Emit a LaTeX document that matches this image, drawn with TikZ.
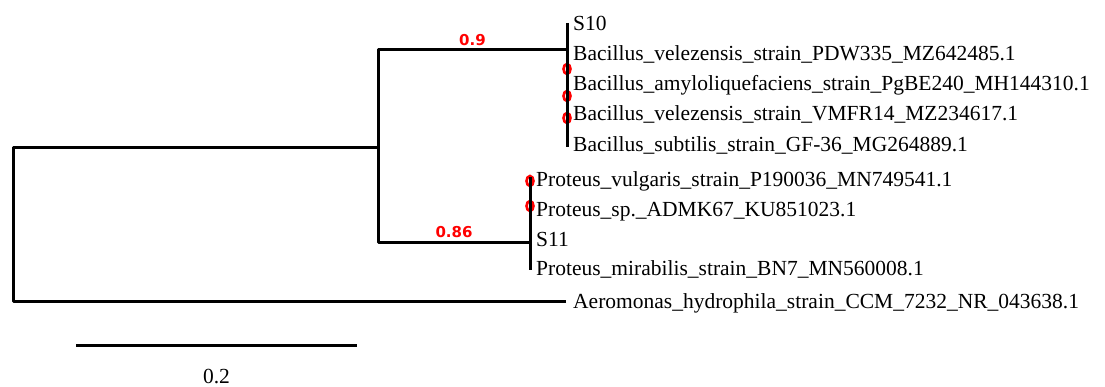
\documentclass[tikz,border=0pt]{standalone}
\usepackage{fontspec}
\setmainfont{Liberation Serif}
\newfontfamily\supfont{DejaVu Sans}
\usetikzlibrary{positioning,calc,shapes.geometric}
\tikzset{  leaf/.style={inner sep=0pt,text height=14pt,text depth=0pt,font=\fontsize{21.5}{22}\selectfont},
  branch/.style={line width=3pt,line join=round},
  support/.style={inner sep=0pt,text=red,font=\supfont\bfseries\fontsize{15}{15}\selectfont},
  nodedot/.style={draw=red,line width=2.6pt,ellipse,minimum width=7pt,minimum height=10pt,inner sep=0pt} }

\begin{document}
\begin{tikzpicture}[x=1pt,y=-1pt]
    \useasboundingbox (0,0) rectangle (1105,387);
    % inner vertices
    \coordinate (root) at (13,148);
    \coordinate (in) at (378,148);
    \coordinate (bac) at (567,50);
    \coordinate (pro) at (530,243);
    % tips
    \coordinate (s10) at (567,24);
    \coordinate (bvel) at (567,54);
    \coordinate (bamy) at (567,84);
    \coordinate (bvm) at (567,114);
    \coordinate (bsub) at (567,145);
    \coordinate (pvul) at (530,180);
    \coordinate (psp) at (530,210);
    \coordinate (s11) at (530,240);
    \coordinate (pmir) at (530,269);
    \coordinate (aer) at (566,301);
    \node[nodedot] (d1) at (567,69) {};
    \node[nodedot] (d2) at (567,96) {};
    \node[nodedot] (d3) at (567,118) {};
    \node[nodedot] (d4) at (530,181) {};
    \node[nodedot] (d5) at (530,206) {};
    \draw[branch] (aer) -| (root) -- (in);
    \draw[branch] (bac) -| (in) |- (pro);
    \draw[branch,shorten <=-1pt,shorten >=-2pt] (s10) -- (bsub);
    \draw[branch,shorten <=-3pt,shorten >=-1pt] (pvul) -- (pmir);
    \path (in |- bac) -- node[support,above=4pt] (bs1) {0.9} (bac);
    \path (in |- pro) -- node[support,above=5pt] (bs2) {0.86} (pro);
    \node[leaf,right=6pt of s10] (ls10) {S10};
    \node[leaf,right=6pt of bvel] (lbvel) {Bacillus\_velezensis\_strain\_PDW335\_MZ642485.1};
    \node[leaf,right=6pt of bamy] (lbamy) {Bacillus\_amyloliquefaciens\_strain\_PgBE240\_MH144310.1};
    \node[leaf,right=6pt of bvm] (lbvm) {Bacillus\_velezensis\_strain\_VMFR14\_MZ234617.1};
    \node[leaf,right=6pt of bsub] (lbsub) {Bacillus\_subtilis\_strain\_GF-36\_MG264889.1};
    \node[leaf,right=6pt of pvul] (lpvul) {Proteus\_vulgaris\_strain\_P190036\_MN749541.1};
    \node[leaf,right=6pt of psp] (lpsp) {Proteus\_sp.\_ADMK67\_KU851023.1};
    \node[leaf,right=6pt of s11] (ls11) {S11};
    \node[leaf,right=6pt of pmir] (lpmir) {Proteus\_mirabilis\_strain\_BN7\_MN560008.1};
    \node[leaf,right=7pt of aer] (laer) {Aeromonas\_hydrophila\_strain\_CCM\_7232\_NR\_043638.1};
    % scale bar
    \coordinate (sb1) at (76,345);
    \coordinate (sb2) at (357,345);
    \draw[branch] (sb1) -- (sb2);
    \node[leaf,anchor=center] (sbl) at ($(sb1)!0.5!(sb2)+(0,31)$) {0.2};
\end{tikzpicture}
\end{document}
